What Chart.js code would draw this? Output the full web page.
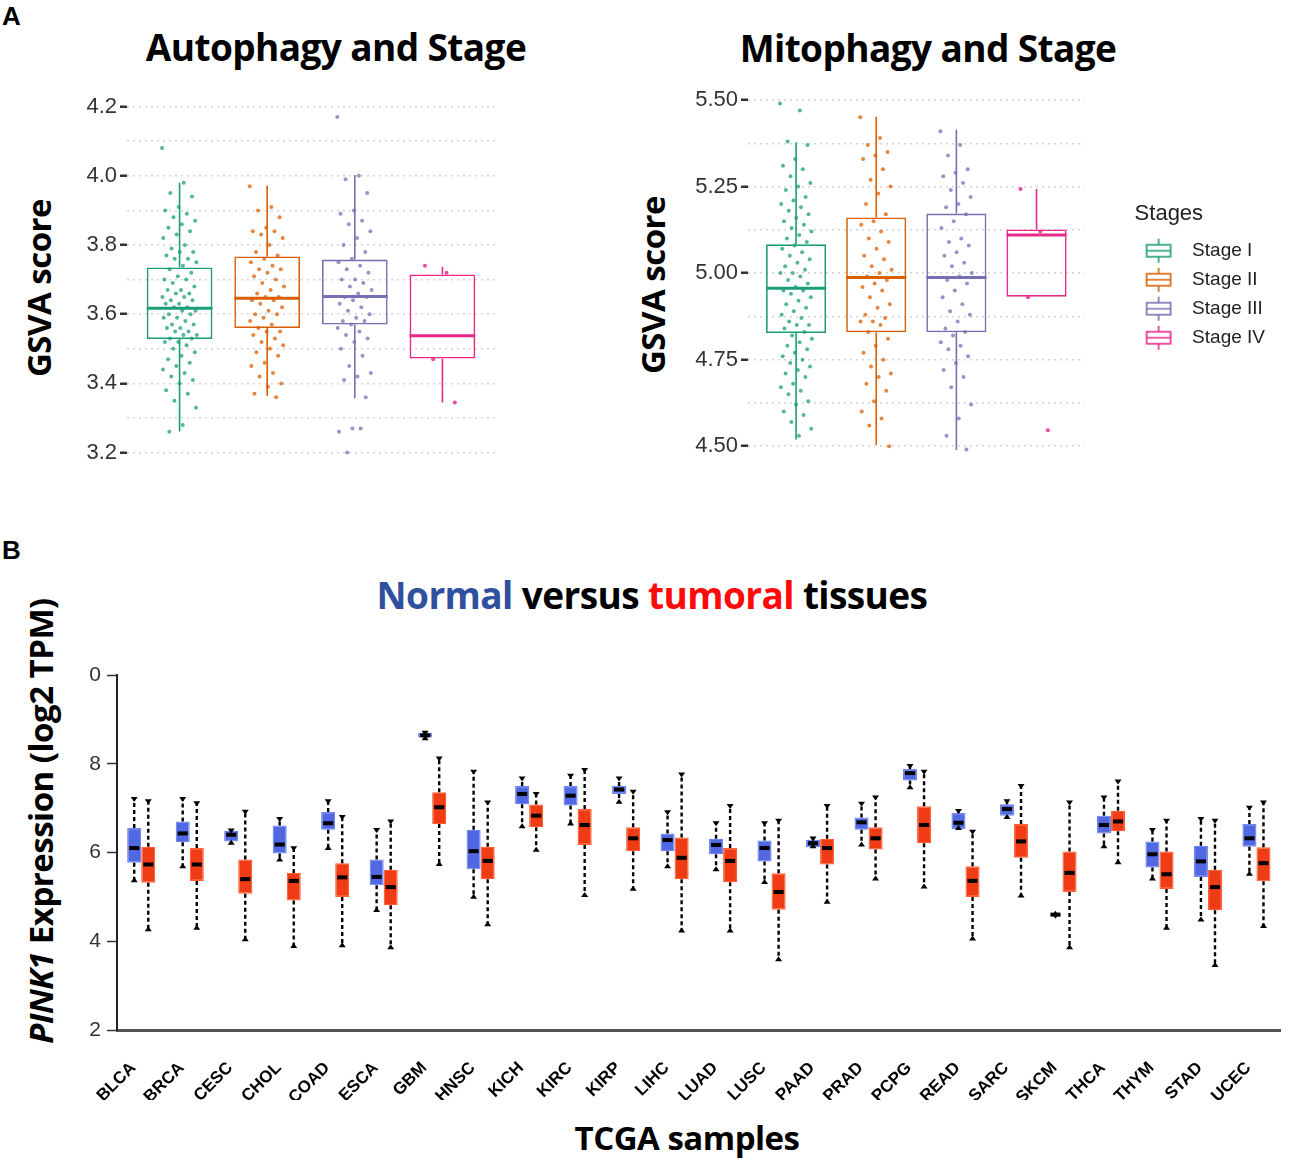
<!DOCTYPE html>
<html>
<head>
<meta charset="utf-8">
<script src="https://cdn.jsdelivr.net/npm/chart.js@4.4.0/dist/chart.umd.min.js"></script>
<style>
  body { margin: 0; width: 1299px; height: 1164px; position: relative; background: #fff; overflow: hidden; }
  .box { position: absolute; }
  .txt { position: absolute; white-space: nowrap; font-family: "Open Sans", sans-serif; font-weight: 700; color: #000; transform: translate(-50%, -50%); }
  .rot { transform: translate(-50%, -50%) rotate(-90deg); }
  .panel { position: absolute; font-family: "Liberation Sans", Arial, sans-serif; font-weight: 700; font-size: 26px; color: #000; }
</style>
</head>
<body>
<div class="panel" style="left:2px; top:1px;">A</div>
<div class="panel" style="left:2px; top:535px;">B</div>

<div class="txt" style="left:336px; top:46px; font-size:37px; letter-spacing:-0.6px;">Autophagy and Stage</div>
<div class="txt" style="left:928px; top:47px; font-size:37px; letter-spacing:-0.6px;">Mitophagy and Stage</div>
<div class="txt rot" style="left:38px; top:288px; font-size:33px; letter-spacing:-0.5px;">GSVA score</div>
<div class="txt rot" style="left:652px; top:285px; font-size:33px; letter-spacing:-0.5px;">GSVA score</div>

<div class="txt" style="left:652px; top:594px; font-size:37px; letter-spacing:-0.6px;">
  <span style="color:#2f4f9f">Normal</span> versus <span style="color:#ff0a0a">tumoral</span> tissues
</div>
<div class="txt rot" style="left:40px; top:821px; font-size:33px; letter-spacing:-0.5px;"><i>PINK1</i> Expression (log2 TPM)</div>
<div class="txt" style="left:687px; top:1137px; font-size:33px; letter-spacing:-0.5px;">TCGA samples</div>

<div class="box" style="left:0; top:80px;"><canvas id="autoChart" width="505" height="400"></canvas></div>
<div class="box" style="left:340px; top:70px;"><canvas id="mitoChart" width="959" height="410"></canvas></div>
<div class="box" style="left:0; top:640px;"><canvas id="pinkChart" width="1299" height="460"></canvas></div>

<script>
// ---------- panel A data ----------
const stages = ["Stage I", "Stage II", "Stage III", "Stage IV"];

// box stats: [lower whisker, Q1, median, Q3, upper whisker]
const autoBoxes = [
    [3.261, 3.528, 3.617, 3.735, 3.980],
    [3.364, 3.560, 3.646, 3.767, 3.971],
    [3.357, 3.570, 3.651, 3.758, 4.002],
    [3.345, 3.472, 3.538, 3.715, 3.737],
];
const autoStage1 = [4.08, 3.98, 3.95, 3.94, 3.91, 3.90, 3.89, 3.88, 3.87, 3.86, 3.85, 3.84, 3.83, 3.82, 3.80, 3.79,
    3.78, 3.78, 3.77, 3.76, 3.76, 3.75, 3.74, 3.73, 3.72, 3.71, 3.70, 3.70, 3.69, 3.68, 3.67, 3.67, 3.66, 3.66,
    3.65, 3.65, 3.64, 3.64, 3.63, 3.63, 3.62, 3.62, 3.61, 3.61, 3.60, 3.60, 3.59, 3.59, 3.58, 3.57, 3.57, 3.56,
    3.56, 3.55, 3.55, 3.54, 3.54, 3.53, 3.53, 3.52, 3.52, 3.51, 3.50, 3.49, 3.48, 3.47, 3.46, 3.45, 3.44, 3.43,
    3.42, 3.41, 3.40, 3.38, 3.37, 3.35, 3.33, 3.28, 3.26];
const autoStage2 = [3.97, 3.91, 3.90, 3.88, 3.85, 3.84, 3.84, 3.83, 3.82, 3.80, 3.78, 3.77, 3.76, 3.75, 3.74, 3.73,
    3.73, 3.72, 3.71, 3.70, 3.69, 3.68, 3.67, 3.66, 3.65, 3.65, 3.64, 3.64, 3.63, 3.62, 3.61, 3.60, 3.60, 3.59,
    3.58, 3.57, 3.56, 3.55, 3.55, 3.54, 3.53, 3.52, 3.51, 3.50, 3.49, 3.48, 3.46, 3.45, 3.43, 3.42, 3.40, 3.39,
    3.37, 3.36];
const autoStage3 = [4.17, 4.00, 3.99, 3.95, 3.90, 3.89, 3.87, 3.86, 3.84, 3.82, 3.80, 3.78, 3.76, 3.75, 3.74, 3.73,
    3.72, 3.70, 3.70, 3.69, 3.68, 3.67, 3.66, 3.65, 3.65, 3.64, 3.63, 3.62, 3.61, 3.60, 3.59, 3.58, 3.58, 3.57,
    3.56, 3.55, 3.54, 3.53, 3.52, 3.50, 3.48, 3.45, 3.43, 3.42, 3.41, 3.36, 3.27, 3.26, 3.27, 3.20];
const autoStage4 = [3.74, 3.72, 3.47, 3.345];

const mitoBoxes = [
    [4.519, 4.827, 4.956, 5.083, 5.378],
    [4.503, 4.829, 4.987, 5.161, 5.452],
    [4.489, 4.829, 4.987, 5.172, 5.414],
    [4.932, 4.932, 5.110, 5.126, 5.243],
];
const mitoStage1 = [5.49, 5.47, 5.38, 5.37, 5.33, 5.31, 5.30, 5.28, 5.26, 5.25, 5.24, 5.22, 5.21, 5.20, 5.19, 5.18,
    5.17, 5.16, 5.15, 5.14, 5.13, 5.12, 5.11, 5.10, 5.09, 5.08, 5.07, 5.06, 5.05, 5.04, 5.03, 5.02, 5.01, 5.00,
    5.00, 4.99, 4.98, 4.97, 4.96, 4.95, 4.95, 4.94, 4.93, 4.92, 4.91, 4.90, 4.89, 4.88, 4.87, 4.86, 4.85, 4.85,
    4.84, 4.83, 4.82, 4.81, 4.80, 4.79, 4.78, 4.77, 4.76, 4.75, 4.74, 4.73, 4.72, 4.71, 4.70, 4.68, 4.67, 4.66,
    4.65, 4.63, 4.62, 4.60, 4.59, 4.57, 4.55, 4.53];
const mitoStage2 = [5.45, 5.39, 5.37, 5.35, 5.34, 5.33, 5.30, 5.27, 5.25, 5.23, 5.20, 5.17, 5.15, 5.14, 5.12, 5.10,
    5.09, 5.07, 5.05, 5.04, 5.02, 5.01, 5.00, 4.99, 4.98, 4.97, 4.96, 4.95, 4.93, 4.91, 4.90, 4.88, 4.87, 4.86,
    4.86, 4.85, 4.83, 4.81, 4.79, 4.77, 4.75, 4.73, 4.71, 4.70, 4.68, 4.66, 4.63, 4.60, 4.58, 4.56, 4.50];
const mitoStage3 = [5.41, 5.37, 5.34, 5.30, 5.29, 5.28, 5.26, 5.24, 5.22, 5.20, 5.19, 5.17, 5.15, 5.13, 5.10, 5.09,
    5.08, 5.06, 5.05, 5.03, 5.02, 5.00, 4.99, 4.98, 4.97, 4.95, 4.93, 4.91, 4.89, 4.88, 4.86, 4.84, 4.83, 4.82,
    4.80, 4.79, 4.78, 4.76, 4.74, 4.72, 4.70, 4.67, 4.62, 4.58, 4.53, 4.49];
const mitoStage4 = [5.243, 5.12, 4.93, 4.546];

const autoTicks = [3.2, 3.3, 3.4, 3.5, 3.6, 3.7, 3.8, 3.9, 4.0, 4.1, 4.2];
const mitoTicks = [4.5, 4.625, 4.75, 4.875, 5.0, 5.125, 5.25, 5.375, 5.5];

// ---------- panel B data ----------
const cancers = ["BLCA", "BRCA", "CESC", "CHOL", "COAD", "ESCA", "GBM", "HNSC", "KICH", "KIRC", "KIRP", "LIHC",
    "LUAD", "LUSC", "PAAD", "PRAD", "PCPG", "READ", "SARC", "SKCM", "THCA", "THYM", "STAD", "UCEC"];
const normalBoxes = [
    [5.35, 5.77, 6.10, 6.55, 7.23], [5.67, 6.23, 6.43, 6.70, 7.23], [6.20, 6.25, 6.40, 6.49, 6.52],
    [5.82, 5.98, 6.18, 6.61, 6.78], [6.08, 6.51, 6.66, 6.91, 7.18], [4.68, 5.26, 5.45, 5.84, 6.53],
    [8.55, 8.59, 8.64, 8.70, 8.72], [4.98, 5.62, 6.03, 6.51, 7.84], [6.57, 7.09, 7.32, 7.50, 7.69],
    [6.63, 7.06, 7.28, 7.50, 7.75], [7.12, 7.32, 7.42, 7.50, 7.69], [5.67, 6.03, 6.28, 6.43, 6.93],
    [5.60, 5.96, 6.17, 6.31, 6.68], [5.31, 5.80, 6.10, 6.27, 6.68], [6.12, 6.12, 6.21, 6.28, 6.34],
    [6.16, 6.51, 6.68, 6.79, 7.12], [7.45, 7.62, 7.79, 7.88, 7.97], [6.53, 6.53, 6.67, 6.89, 6.96],
    [6.78, 6.83, 6.98, 7.09, 7.18], [4.60, 4.60, 4.60, 4.60, 4.60], [6.12, 6.43, 6.62, 6.83, 7.26],
    [5.39, 5.66, 5.96, 6.25, 6.53], [4.47, 5.45, 5.80, 6.15, 6.78], [5.50, 6.13, 6.32, 6.64, 7.03],
];
const tumorBoxes = [
    [4.25, 5.32, 5.73, 6.13, 7.18], [4.28, 5.36, 5.73, 6.10, 7.13], [4.02, 5.07, 5.40, 5.84, 6.94],
    [3.87, 4.92, 5.36, 5.54, 6.12], [3.89, 5.00, 5.44, 5.76, 6.82], [3.84, 4.81, 5.22, 5.61, 6.72],
    [5.72, 6.64, 7.02, 7.36, 8.14], [4.36, 5.40, 5.81, 6.13, 7.15], [6.04, 6.57, 6.83, 7.08, 7.34],
    [5.02, 6.17, 6.62, 6.98, 7.88], [5.16, 6.03, 6.32, 6.57, 7.39], [4.22, 5.40, 5.88, 6.34, 7.78],
    [4.22, 5.33, 5.81, 6.10, 7.07], [3.57, 4.71, 5.11, 5.53, 6.74], [4.87, 5.73, 6.10, 6.31, 7.07],
    [5.39, 6.07, 6.32, 6.57, 7.26], [5.21, 6.21, 6.62, 7.04, 7.84], [4.04, 5.00, 5.36, 5.69, 6.49],
    [5.01, 5.88, 6.25, 6.64, 7.52], [3.84, 5.11, 5.54, 6.02, 7.15], [5.76, 6.48, 6.70, 6.94, 7.62],
    [4.28, 5.18, 5.51, 6.02, 6.74], [3.44, 4.70, 5.22, 5.61, 6.74], [4.32, 5.35, 5.76, 6.12, 7.15],
];
const pinkTicks = [2, 4, 6, 8, 10];
const pinkTickLabels = ["2", "4", "6", "8", "0"];

// ---------- styles ----------
const stageColors = ["#1b9e77", "#d95f02", "#7570b3", "#e7298a"];
const stageDots = ["rgba(27,158,119,0.75)", "rgba(217,95,2,0.75)", "rgba(117,112,179,0.75)", "rgba(231,41,138,0.85)"];
const tickFont = { family: "'Liberation Sans', Arial, sans-serif", size: 22 };

// horizontal spread of the jittered dots (position only, values come from the arrays)
function jitter(j) {
    return (((j * 0.6180339887) % 1) - 0.5) * 0.4;
}

function legendIcon(color) {
    const c = document.createElement("canvas");
    c.width = 38;
    c.height = 26;
    const g = c.getContext("2d");
    g.strokeStyle = color;
    g.lineWidth = 1.6;
    g.strokeRect(2, 7, 24, 12);
    g.beginPath();
    g.moveTo(14, 1); g.lineTo(14, 7);
    g.moveTo(14, 19); g.lineTo(14, 25);
    g.moveTo(2, 13); g.lineTo(26, 13);
    g.stroke();
    return c;
}

function stageBoxPlugin(boxes) {
    return {
        id: "stageBoxes",
        beforeDatasetsDraw(chart) {
            const { ctx, scales } = chart;
            const x = scales.x, y = scales.y;
            const barMeta = chart.getDatasetMeta(chart.data.datasets.length - 1);
            boxes.forEach((b, i) => {
                const cx = x.getPixelForValue(i + 1);
                const half = barMeta.data[i].width / 2;
                ctx.save();
                ctx.strokeStyle = stageColors[i];
                ctx.lineWidth = 1.6;
                ctx.beginPath();
                ctx.moveTo(cx, y.getPixelForValue(b[0]));
                ctx.lineTo(cx, y.getPixelForValue(b[1]));
                ctx.moveTo(cx, y.getPixelForValue(b[3]));
                ctx.lineTo(cx, y.getPixelForValue(b[4]));
                ctx.stroke();
                ctx.lineWidth = 3;
                const my = y.getPixelForValue(b[2]);
                ctx.beginPath();
                ctx.moveTo(cx - half, my);
                ctx.lineTo(cx + half, my);
                ctx.stroke();
                ctx.restore();
            });
        },
    };
}

function stageChart(canvasId, boxes, groups, ticks, yMin, yMax, decimals, opts) {
    const datasets = groups.map((vals, i) => ({
        type: "scatter",
        label: stages[i],
        data: vals.map((v, j) => ({ x: i + 1 + jitter(j), y: v })),
        pointRadius: 2,
        pointBackgroundColor: stageDots[i],
        pointBorderWidth: 0,
        order: 1,
    }));
    datasets.push({
        type: "bar",
        label: "boxes",
        data: boxes.map((b, i) => ({ x: i + 1, y: [b[1], b[3]] })),
        backgroundColor: "rgba(0,0,0,0)",
        borderColor: stageColors,
        borderWidth: 1.6,
        borderSkipped: false,
        barPercentage: 0.75,
        categoryPercentage: 1,
        order: 2,
    });

    const scales = {
        x: {
            type: "linear",
            min: 0.4,
            max: 4.6,
            offset: false,
            display: false,
            afterBuildTicks: (s) => { s.ticks = stages.map((_, i) => ({ value: i + 1 })); },
        },
        y: {
            type: "linear",
            position: "left",
            min: yMin,
            max: yMax,
            afterBuildTicks: (s) => { s.ticks = ticks.map((v) => ({ value: v })); },
            afterFit: (s) => { s.width = opts.axisWidth; },
            ticks: {
                font: tickFont,
                color: "#333",
                padding: 3,
                callback: (v, i) => (i % 2 === 0 ? Number(v).toFixed(decimals) : ""),
            },
            grid: {
                color: "#d4d4d4",
                lineWidth: 1.5,
                tickLength: 7,
                tickWidth: 2.5,
                tickColor: (c) => (c.index % 2 === 0 ? "#333" : "rgba(0,0,0,0)"),
            },
            border: { display: false, dash: [2, 4] },
        },
    };
    if (opts.gap) {
        scales.gap = {
            type: "linear",
            position: "right",
            display: true,
            grid: { display: false },
            border: { display: false },
            ticks: { display: false },
            afterFit: (s) => { s.width = opts.gap; },
        };
    }

    return new Chart(document.getElementById(canvasId), {
        type: "bar",
        data: { datasets },
        options: {
            responsive: false,
            animation: false,
            layout: { padding: opts.padding },
            scales,
            plugins: {
                tooltip: { enabled: false },
                legend: opts.legend
                    ? {
                          display: true,
                          position: "right",
                          align: "center",
                          title: {
                              display: true,
                              text: "Stages",
                              color: "#222",
                              font: { family: "'Liberation Sans', Arial, sans-serif", size: 22 },
                              padding: { top: 16, bottom: 2 },
                              position: "start",
                          },
                          labels: {
                              usePointStyle: true,
                              pointStyleWidth: 38,
                              padding: 10,
                              color: "#222",
                              font: { family: "'Liberation Sans', Arial, sans-serif", size: 19 },
                              generateLabels: () =>
                                  stages.map((s, i) => ({
                                      text: s,
                                      pointStyle: legendIcon(stageColors[i]),
                                      fillStyle: "rgba(0,0,0,0)",
                                      strokeStyle: "rgba(0,0,0,0)",
                                      lineWidth: 0,
                                      hidden: false,
                                      datasetIndex: i,
                                  })),
                          },
                      }
                    : { display: false },
            },
        },
        plugins: [stageBoxPlugin(boxes)],
    });
}

stageChart("autoChart", autoBoxes, [autoStage1, autoStage2, autoStage3, autoStage4], autoTicks,
    3.17, 4.23, 1, { axisWidth: 127, padding: { top: 13, right: 10, bottom: 17, left: 0 } });

stageChart("mitoChart", mitoBoxes, [mitoStage1, mitoStage2, mitoStage3, mitoStage4], mitoTicks,
    4.46, 5.54, 2, { axisWidth: 408, padding: { top: 14, right: 24, bottom: 20, left: 0 }, legend: true, gap: 50 });

// ---------- panel B ----------
const whiskerPlugin = {
    id: "pinkWhiskers",
    afterDatasetsDraw(chart) {
        const { ctx } = chart;
        const y = chart.scales.y;
        [normalBoxes, tumorBoxes].forEach((boxes, d) => {
            const meta = chart.getDatasetMeta(d);
            boxes.forEach((b, i) => {
                const el = meta.data[i];
                const cx = el.x;
                const w = el.width;
                const yLo = y.getPixelForValue(b[0]);
                const yQ1 = y.getPixelForValue(b[1]);
                const yMed = y.getPixelForValue(b[2]);
                const yQ3 = y.getPixelForValue(b[3]);
                const yHi = y.getPixelForValue(b[4]);
                ctx.save();
                ctx.strokeStyle = "#000";
                ctx.fillStyle = "#000";
                ctx.lineWidth = 2.4;
                ctx.setLineDash([4, 3]);
                ctx.beginPath();
                if (yHi < yQ3 - 1) { ctx.moveTo(cx, yQ3); ctx.lineTo(cx, yHi); }
                if (yLo > yQ1 + 1) { ctx.moveTo(cx, yQ1); ctx.lineTo(cx, yLo); }
                ctx.stroke();
                ctx.setLineDash([]);
                // caps
                ctx.beginPath();
                ctx.moveTo(cx - 3.5, yHi - 1); ctx.lineTo(cx + 3.5, yHi - 1); ctx.lineTo(cx, yHi + 4); ctx.closePath();
                ctx.moveTo(cx - 3.5, yLo + 1); ctx.lineTo(cx + 3.5, yLo + 1); ctx.lineTo(cx, yLo - 4); ctx.closePath();
                ctx.fill();
                // median
                ctx.fillRect(cx - w * 0.36, yMed - 2, w * 0.72, 4);
                ctx.restore();
            });
        });
    },
};

new Chart(document.getElementById("pinkChart"), {
    type: "bar",
    data: {
        labels: cancers,
        datasets: [
            {
                label: "Normal",
                data: normalBoxes.map((b) => [b[1], b[3]]),
                backgroundColor: "#5069e2",
                borderColor: "#6e84f0",
                borderWidth: 1.2,
                borderSkipped: false,
            },
            {
                label: "Tumor",
                data: tumorBoxes.map((b) => [b[1], b[3]]),
                backgroundColor: "#f03c14",
                borderColor: "#ff5e36",
                borderWidth: 1.2,
                borderSkipped: false,
            },
        ],
    },
    options: {
        responsive: false,
        animation: false,
        categoryPercentage: 0.58,
        barPercentage: 1,
        layout: { padding: { top: 35, right: 6, bottom: 0, left: 0 } },
        scales: {
            x: {
                type: "category",
                afterFit: (s) => { s.height = 70; },
                grid: { display: true, drawOnChartArea: false, drawTicks: false },
                border: { display: true, color: "#555", width: 3 },
                ticks: {
                    minRotation: 45,
                    maxRotation: 45,
                    padding: 28,
                    labelOffset: -8,
                    color: "#000",
                    font: { family: "'Liberation Sans', Arial, sans-serif", size: 17, weight: "bold" },
                },
            },
            y: {
                type: "linear",
                min: 2,
                max: 10,
                afterBuildTicks: (s) => { s.ticks = pinkTicks.map((v) => ({ value: v })); },
                afterFit: (s) => { s.width = 117; },
                ticks: {
                    color: "#333",
                    padding: 6,
                    font: { family: "'Liberation Sans', Arial, sans-serif", size: 21 },
                    callback: (v, i) => pinkTickLabels[i],
                },
                grid: { drawOnChartArea: false, tickLength: 10, tickColor: "#333", tickWidth: 1.5 },
                border: { display: true, color: "#222", width: 2 },
            },
        },
        plugins: { legend: { display: false }, tooltip: { enabled: false } },
    },
    plugins: [whiskerPlugin],
});
</script>
</body>
</html>
